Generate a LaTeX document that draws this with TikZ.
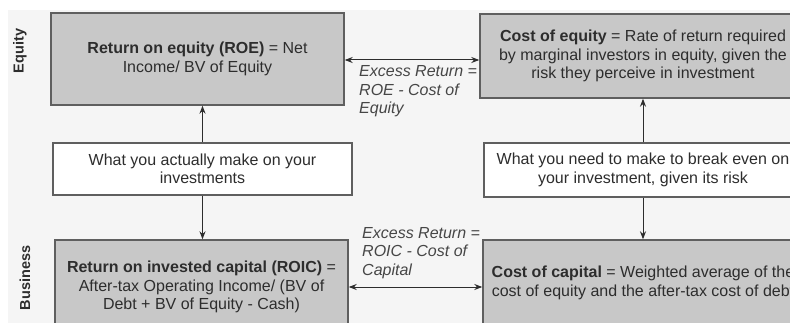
\documentclass[tikz,border=0pt]{standalone}
\usepackage{fontspec}
\setmainfont{Liberation Sans}
\usetikzlibrary{arrows.meta}
\definecolor{bgcol}{RGB}{245,245,245}
\definecolor{boxgray}{RGB}{200,200,200}
\definecolor{edgecol}{RGB}{95,95,95}
\definecolor{txtcol}{RGB}{45,45,45}
\definecolor{lblcol}{RGB}{70,70,70}
\begin{document}
\begin{tikzpicture}[x=1pt,y=-1pt,
  base/.style={draw=edgecol, line width=1.4pt, align=center, text=txtcol,
    inner sep=0pt, font=\fontsize{16}{18.5}\selectfont},
  graybox/.style={base, fill=boxgray},
  whitebox/.style={base, fill=white},
  excess/.style={align=left, anchor=west, inner sep=0pt, text=lblcol,
    font=\fontsize{16}{18.5}\selectfont\itshape},
  side/.style={rotate=90, inner sep=0pt, text=txtcol,
    font=\fontsize{14.5}{16}\selectfont\bfseries},
  arr/.style={draw=txtcol, line width=1pt, -{Stealth[length=8pt,width=6pt]}},
  darr/.style={draw=txtcol, line width=1pt, {Stealth[length=8pt,width=6pt]}-{Stealth[length=8pt,width=6pt]}}
]
\useasboundingbox (0,0) rectangle (790,323);
\clip (0,0) rectangle (790,323);
\fill[white] (0,0) rectangle (790,323);
\fill[bgcol] (8,10) rectangle (790,323);

\node[side] (eq) at (20,51) {Equity};
\node[side] (bus) at (25,278) {Business};

\node[graybox, minimum width=293pt, minimum height=92pt] (roe) at (197.5,59)
  {\textbf{Return on equity (ROE)} = Net\\Income/ BV of Equity};
\node[graybox, minimum width=326pt, minimum height=84pt] (coe) at (643,56)
  {\textbf{Cost of equity} = Rate of return required\\by marginal investors in equity, given the\\risk they perceive in investment};
\node[whitebox, minimum width=299pt, minimum height=52pt] (w1) at (202.5,169)
  {What you actually make on your\\investments};
\node[whitebox, minimum width=318pt, minimum height=54pt] (w2) at (643,170)
  {What you need to make to break even on\\your investment, given its risk};
\node[graybox, minimum width=293pt, minimum height=94pt] (roic) at (201.5,287)
  {\textbf{Return on invested capital (ROIC)} =\\After-tax Operating Income/ (BV of\\Debt + BV of Equity - Cash)};
\node[graybox, minimum width=320pt, minimum height=86pt] (coc) at (643,283)
  {\textbf{Cost of capital} = Weighted average of the\\cost of equity and the after-tax cost of debt};

\node[excess] (ex1) at (359,91.5) {Excess Return =\\ROE - Cost of\\Equity};
\node[excess] (ex2) at (362,253) {Excess Return =\\ROIC - Cost of\\Capital};

\coordinate (ytop) at (0,60);
\coordinate (ybot) at (0,287);
\draw[darr] (roe.east |- ytop) -- (coe.west |- ytop);
\draw[darr] (roic.east |- ybot) -- (coc.west |- ybot);

\draw[arr] (w1.north) -- (w1.north |- roe.south);
\draw[arr] (w1.south) -- (w1.south |- roic.north);
\draw[arr] (w2.north) -- (w2.north |- coe.south);
\draw[arr] (w2.south) -- (w2.south |- coc.north);
\end{tikzpicture}
\end{document}
